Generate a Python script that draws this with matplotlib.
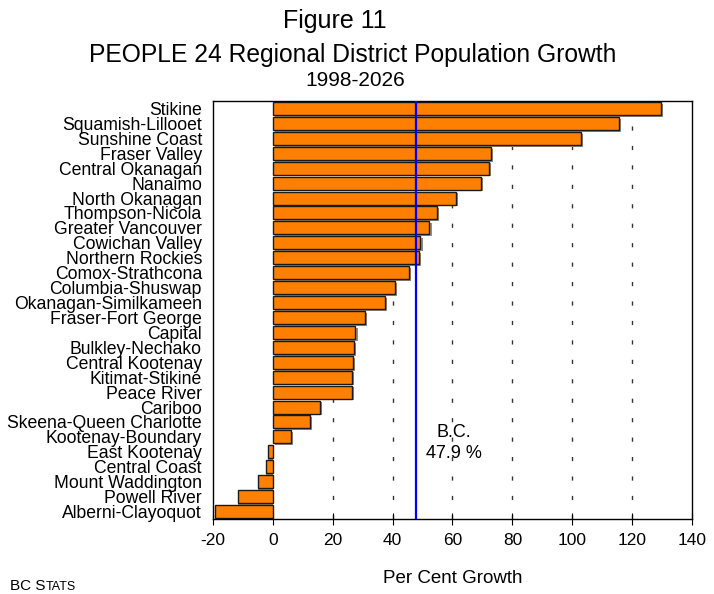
import matplotlib.pyplot as plt

plt.rcParams['font.family'] = ['Liberation Sans', 'DejaVu Sans']

districts = ["Stikine", "Squamish-Lillooet", "Sunshine Coast", "Fraser Valley",
             "Central Okanagan", "Nanaimo", "North Okanagan", "Thompson-Nicola",
             "Greater Vancouver", "Cowichan Valley", "Northern Rockies",
             "Comox-Strathcona", "Columbia-Shuswap", "Okanagan-Similkameen",
             "Fraser-Fort George", "Capital", "Bulkley-Nechako", "Central Kootenay",
             "Kitimat-Stikine", "Peace River", "Cariboo", "Skeena-Queen Charlotte",
             "Kootenay-Boundary", "East Kootenay", "Central Coast",
             "Mount Waddington", "Powell River", "Alberni-Clayoquot"]
growth = [129.5, 115.7, 102.9, 72.7, 72.3, 69.4, 61.1, 54.7, 52.3, 49.3, 48.7,
          45.6, 40.9, 37.5, 30.7, 27.6, 27.2, 26.8, 26.5, 26.3, 15.8, 12.5, 6.1,
          -1.7, -2.2, -4.8, -11.5, -19.3]
bc_growth = 47.9
xticks = [-20, 0, 20, 40, 60, 80, 100, 120, 140]

fig = plt.figure(figsize=(7.14, 5.94), dpi=100)
ax = fig.add_axes([0.2983, 0.1263, 0.6709, 0.7037])

ypos = list(range(len(districts)))

# dashed grid behind the bars
for x in xticks[2:-1]:
    ax.axvline(x, color='#333333', linewidth=1, linestyle=(0, (3, 11)), zorder=0)

# grey shadow, then the bars
ax.barh([y + 0.12 for y in ypos], growth, left=[0.7 if g > 0 else 0 for g in growth],
        height=0.87, color='#8c8c8c', zorder=1)
ax.barh(ypos, growth, height=0.87, color='#ff8000', edgecolor='#1a1a1a',
        linewidth=1, zorder=2)

ax.axvline(bc_growth, color='#0000ff', linewidth=1.6, zorder=3)
ax.text(60.5, 22.4, "B.C.\n47.9 %", ha='center', va='center', fontsize=13,
        linespacing=1.33)

ax.set_xlim(-20, 140)
ax.set_ylim(len(districts) - 0.5, -0.5)
ax.set_xticks(xticks)
ax.set_xticklabels([str(x) for x in xticks], fontsize=12.5)
ax.set_yticks(ypos)
ax.set_yticklabels(districts, fontsize=12.7)
ax.tick_params(axis='y', length=0, pad=8)
ax.tick_params(axis='x', direction='inout', length=8, pad=6)
ax.set_xlabel("Per Cent Growth", fontsize=13.5, labelpad=16)
for s in ax.spines.values():
    s.set_linewidth(1)

fig.text(0.469, 0.953, "Figure 11", ha='center', va='baseline', fontsize=18)
fig.text(0.494, 0.896, "PEOPLE 24 Regional District Population Growth",
         ha='center', va='baseline', fontsize=17.7)
fig.text(0.497, 0.855, "1998-2026", ha='center', va='baseline', fontsize=15)

t1 = fig.text(0.014, 0.006, "BC S", ha='left', va='baseline', fontsize=11)
ax.annotate("TATS", xy=(1, 0), xycoords=t1, va='bottom', ha='left', fontsize=9,
            annotation_clip=False)

fig.savefig("out.png", dpi=100)
